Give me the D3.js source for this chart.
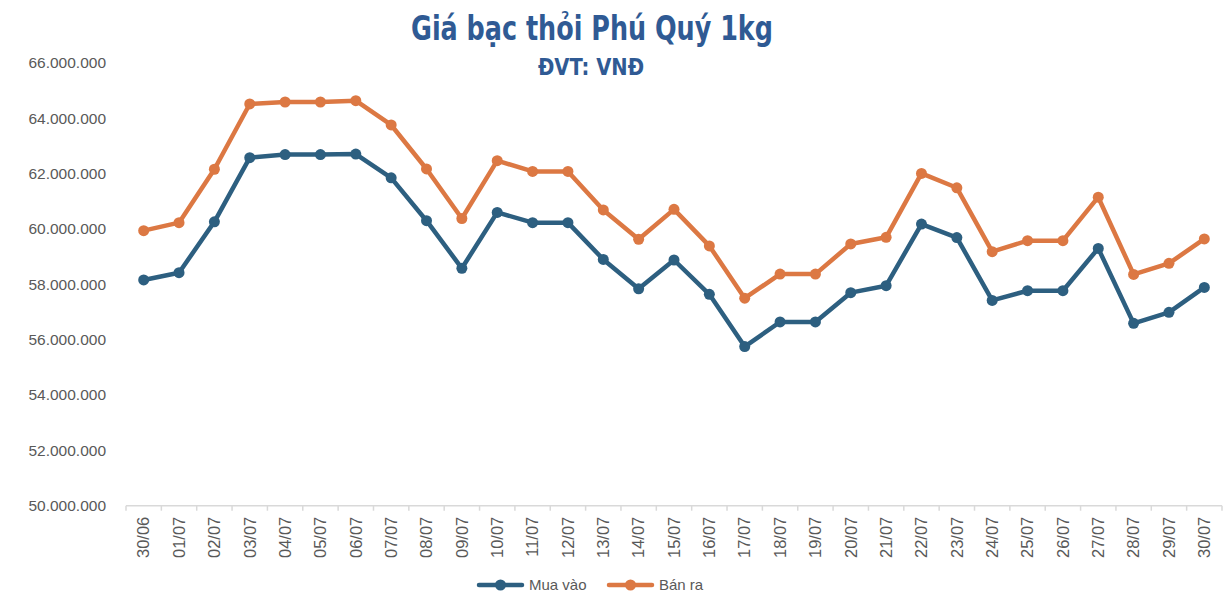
<!DOCTYPE html>
<html>
<head>
<meta charset="utf-8">
<script src="https://cdn.jsdelivr.net/npm/d3@7"></script>
<style>
  body { margin: 0; background: #fff; }
  svg { display: block; }
  .tick text { fill: #595959; font-family: "Liberation Sans", Arial, sans-serif; }
</style>
</head>
<body>
<svg id="chart" width="1226" height="606"></svg>
<script>
let dates = ['30/06', '01/07', '02/07', '03/07', '04/07', '05/07', '06/07', '07/07', '08/07', '09/07',
    '10/07', '11/07', '12/07', '13/07', '14/07', '15/07', '16/07', '17/07', '18/07', '19/07',
    '20/07', '21/07', '22/07', '23/07', '24/07', '25/07', '26/07', '27/07', '28/07', '29/07', '30/07'];

// giá mua vào (VNĐ/kg)
let buyPrices = [58160000, 58420000, 60260000, 62580000, 62690000, 62690000, 62710000, 61850000, 60300000, 58580000,
    60600000, 60230000, 60230000, 58900000, 57840000, 58880000, 57640000, 55750000, 56640000, 56640000,
    57700000, 57950000, 60180000, 59690000, 57420000, 57770000, 57770000, 59300000, 56590000, 56990000, 57890000];

// giá bán ra (VNĐ/kg)
let sellPrices = [59940000, 60230000, 62160000, 64520000, 64590000, 64590000, 64640000, 63760000, 62170000, 60380000,
    62470000, 62080000, 62080000, 60690000, 59630000, 60710000, 59390000, 57500000, 58370000, 58370000,
    59460000, 59700000, 62010000, 61490000, 59180000, 59580000, 59580000, 61150000, 58360000, 58760000, 59640000];

let yTicks = [50000000, 52000000, 54000000, 56000000, 58000000, 60000000, 62000000, 64000000, 66000000];

let seriesNames = ['Mua vào', 'Bán ra'];
let seriesColors = ['#2d5f80', '#dc7843'];

let svg = d3.select('#chart');
let margin = {top: 63, right: 4, bottom: 100, left: 126};
let width = 1226, height = 606;
let plotBottom = 505.7;

let xScale = d3.scaleBand()
    .domain(dates)
    .range([margin.left, width - margin.right]);

let yScale = d3.scaleLinear()
    .domain([50000000, 66000000])
    .range([plotBottom, margin.top]);

let formatVnd = d => d3.format(',')(d).replace(/,/g, '.');

// title
svg.append('text')
    .attr('x', 592).attr('y', 40)
    .attr('text-anchor', 'middle')
    .attr('font-family', '"Liberation Sans Narrow", "DejaVu Sans Condensed", sans-serif')
    .attr('font-weight', 'bold')
    .attr('font-size', 34)
    .attr('textLength', 362)
    .attr('lengthAdjust', 'spacingAndGlyphs')
    .attr('fill', '#2f5a94')
    .text('Giá bạc thỏi Phú Quý 1kg');

svg.append('text')
    .attr('x', 591).attr('y', 75)
    .attr('text-anchor', 'middle')
    .attr('font-family', '"Liberation Sans Narrow", "DejaVu Sans Condensed", sans-serif')
    .attr('font-weight', 'bold')
    .attr('font-size', 23)
    .attr('textLength', 106)
    .attr('lengthAdjust', 'spacingAndGlyphs')
    .attr('fill', '#2f5a94')
    .text('ĐVT: VNĐ');

// y axis, labels only
let yAxis = d3.axisLeft(yScale)
    .tickValues(yTicks)
    .tickFormat(formatVnd)
    .tickSize(0)
    .tickPadding(0);

svg.append('g')
    .attr('class', 'y axis')
    .attr('transform', 'translate(106, 0)')
    .call(yAxis)
    .call(g => g.select('.domain').remove())
    .selectAll('text')
    .attr('font-size', 15.5);

// x axis: labels rotated, ticks between categories
let xAxis = d3.axisBottom(xScale).tickSize(0).tickPadding(0);

let xAxisG = svg.append('g')
    .attr('class', 'x axis')
    .attr('transform', `translate(0, ${plotBottom})`)
    .call(xAxis);

xAxisG.select('.domain').remove();
xAxisG.selectAll('text')
    .attr('font-size', 16.5)
    .attr('text-anchor', 'end')
    .attr('dy', '0.35em')
    .attr('transform', 'translate(0, 11) rotate(-90)');

let boundaries = dates.map(d => xScale(d)).concat([xScale.range()[1]]);
svg.append('g')
    .selectAll('line')
    .data(boundaries)
    .join('line')
    .attr('x1', d => d).attr('x2', d => d)
    .attr('y1', plotBottom).attr('y2', plotBottom + 5)
    .attr('stroke', '#d9d9d9').attr('stroke-width', 1.5);

svg.append('line')
    .attr('x1', xScale.range()[0]).attr('x2', xScale.range()[1])
    .attr('y1', plotBottom).attr('y2', plotBottom)
    .attr('stroke', '#d9d9d9').attr('stroke-width', 1.5);

// lines + markers
let xCenter = d => xScale(d) + xScale.bandwidth() / 2;
let line = d3.line()
    .x((d, i) => xCenter(dates[i]))
    .y(d => yScale(d));

[buyPrices, sellPrices].forEach((values, s) => {
    svg.append('path')
        .datum(values)
        .attr('fill', 'none')
        .attr('stroke', seriesColors[s])
        .attr('stroke-width', 4.5)
        .attr('stroke-linejoin', 'round')
        .attr('d', line);

    svg.append('g')
        .selectAll('circle')
        .data(values)
        .join('circle')
        .attr('cx', (d, i) => xCenter(dates[i]))
        .attr('cy', d => yScale(d))
        .attr('r', 5.5)
        .attr('fill', seriesColors[s]);
});

// legend
let legendX = [479, 609];
let legend = svg.append('g').attr('transform', 'translate(0, 585)');
seriesNames.forEach((name, s) => {
    let g = legend.append('g').attr('transform', `translate(${legendX[s]}, 0)`);
    g.append('line')
        .attr('x1', 0).attr('x2', 43)
        .attr('stroke', seriesColors[s]).attr('stroke-width', 4.5)
        .attr('stroke-linecap', 'round');
    g.append('circle').attr('cx', 21.5).attr('r', 5.5).attr('fill', seriesColors[s]);
    g.append('text')
        .attr('x', 50).attr('dy', '0.35em')
        .attr('font-family', '"Liberation Sans", Arial, sans-serif')
        .attr('font-size', 15)
        .attr('fill', '#595959')
        .text(name);
});
</script>
</body>
</html>
